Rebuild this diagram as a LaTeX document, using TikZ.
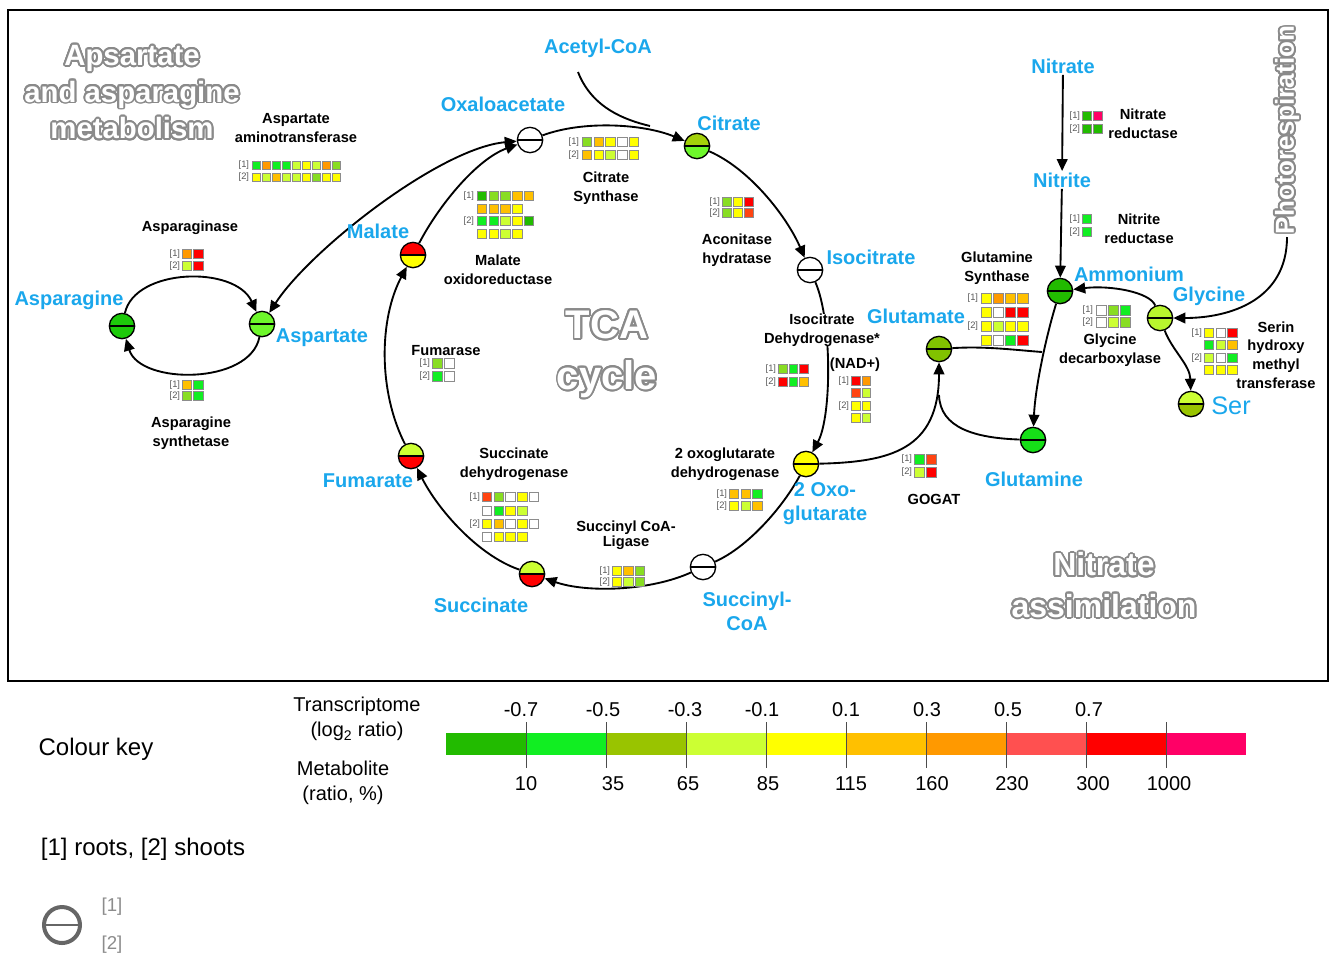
\documentclass[tikz,border=0pt]{standalone}
\usepackage{fontspec}
\setmainfont{Liberation Sans}
\usepackage{contour}
\contourlength{1.4pt}
\contournumber{24}
\usetikzlibrary{arrows.meta}
\definecolor{mblue}{HTML}{1AA7EC}
\definecolor{dg}{HTML}{22BB00}
\definecolor{bg}{HTML}{11EE22}
\definecolor{lg}{HTML}{88DD22}
\definecolor{ol}{HTML}{99C400}
\definecolor{yg}{HTML}{CCFF33}
\definecolor{ye}{HTML}{FFFF00}
\definecolor{lo}{HTML}{FFC000}
\definecolor{or}{HTML}{FF9900}
\definecolor{ro}{HTML}{FF4411}
\definecolor{sr}{HTML}{FF5050}
\definecolor{rd}{HTML}{FF0000}
\definecolor{pk}{HTML}{FF0066}
\definecolor{wh}{HTML}{FFFFFF}
\definecolor{olc}{HTML}{8A8A8A}
\newcommand\hmrow[4]{\foreach \cc [count=\ii from 0] in {#4}{\draw[cellst, fill=\cc] ({#1+\ii*#3-0.41*#3},{#2-0.41*#3}) rectangle ++({0.82*#3},{0.82*#3});}}
\tikzset{
 conn/.style={line width=1.4pt, black},
 arr/.style={conn, -{Triangle[length=9pt,width=8pt]}},
 darr/.style={conn, {Triangle[length=9pt,width=8pt]}-{Triangle[length=9pt,width=8pt]}},
 mlab/.style={text=mblue, font=\bfseries\fontsize{15}{18}\selectfont, align=center, inner sep=1pt},
 elab/.style={font=\bfseries\fontsize{11}{14}\selectfont, align=center, inner sep=1pt},
 rowlab/.style={font=\fontsize{7}{8}\selectfont, text=black!65, anchor=east, inner sep=0.5pt},
 cellst/.style={draw=black!45, line width=0.6pt},
 bgtext/.style={text=white, align=center},
 legtext/.style={font=\fontsize{15}{19}\selectfont, align=center, inner sep=1pt},
 metab/.style 2 args={circle, draw=black, line width=1pt, minimum size=19pt, inner sep=0pt,
   path picture={
     \fill[#1] (path picture bounding box.north west) rectangle (path picture bounding box.east);
     \fill[#2] (path picture bounding box.west) rectangle (path picture bounding box.south east);
     \draw[line width=1pt] (path picture bounding box.west) -- (path picture bounding box.east);
   }},
}
\begin{document}
\begin{tikzpicture}[x=0.75pt,y=-0.75pt]
\useasboundingbox (0,0) rectangle (1330,958);
\draw[line width=1.2pt] (8,10) rectangle (1328,681);

% background titles
\node[bgtext, font=\bfseries\fontsize{22}{27.5}\selectfont] (bgasp) at (132,93) {\contour{olc}{Apsartate}\\\contour{olc}{and asparagine}\\\contour{olc}{metabolism}};
\node[bgtext, font=\bfseries\fontsize{30}{38}\selectfont] (bgtca) at (607,355) {\contour{olc}{TCA}\\\contour{olc}{cycle}};
\node[bgtext, font=\bfseries\fontsize{24}{31}\selectfont] (bgnit) at (1104,586) {\contour{olc}{Nitrate}\\\contour{olc}{assimilation}};
\node[bgtext, font=\bfseries\fontsize{19.5}{24}\selectfont, rotate=90] (photo) at (1288,130) {\contour{olc}{Photorespiration}};

% metabolites
\node[metab={white}{white}] (oxa) at (530,140) {};
\node[metab={ol!80!yg}{bg!50!yg}] (cit) at (697,146) {};
\node[metab={white}{white}] (iso) at (810,270) {};
\node[metab={ye}{ye}] (oxo) at (806,464) {};
\node[metab={white}{white}] (scoa) at (703,567) {};
\node[metab={yg}{rd}] (suc) at (532,574) {};
\node[metab={yg}{rd}] (fum) at (411,456) {};
\node[metab={rd}{ye}] (mal) at (413,255) {};
\node[metab={bg!50!yg}{bg!50!yg}] (asp) at (262,324) {};
\node[metab={dg!70!bg}{dg!70!bg}] (asn) at (122,326) {};
\node[metab={ol!80!dg}{ol!80!dg}] (glu) at (939,349) {};
\node[metab={dg}{dg}] (amm) at (1060,291) {};
\node[metab={yg!70!lg}{yg!70!lg}] (gly) at (1160,318) {};
\node[metab={bg!70!dg}{bg!70!dg}] (gln) at (1033,440) {};
\node[metab={yg}{ol}] (ser) at (1191,404) {};

% connectors
\coordinate (acs) at (578,72);
\coordinate (phe) at (1287,237);
\coordinate (gj) at (1042,352);
\coordinate (gm) at (939,395);
\draw[arr] (oxa) .. controls (584,120) and (644,124) .. (cit);
\draw[conn] (acs) .. controls (592,108) and (625,120) .. (650,126);
\draw[arr] (cit) .. controls (750,169) and (787,217) .. (iso);
\draw[arr] (iso) .. controls (832,320) and (832,416) .. (oxo);
\draw[conn] (oxo) .. controls (783,507) and (748,547) .. (scoa);
\draw[arr] (scoa) .. controls (650,591) and (587,593) .. (suc);
\draw[arr] (suc) .. controls (477,555) and (437,508) .. (fum);
\draw[arr] (fum) .. controls (378,391) and (379,319) .. (mal);
\draw[arr] (mal) .. controls (439,205) and (477,159) .. (oxa);
\draw[darr] (asp) .. controls (310,250) and (440,148) .. (oxa);
\draw[arr] (asn) .. controls (135,268) and (235,265) .. (asp);
\draw[arr] (asp) .. controls (250,385) and (140,385) .. (asn);
\draw[arr] (gly) .. controls (1150,292) and (1110,285) .. (amm);
\draw[arr] (phe) .. controls (1287,300) and (1230,318) .. (gly);
\draw[arr] (gly) .. controls (1172,350) and (1190,365) .. (ser);
\draw[arr] (amm) .. controls (1045,340) and (1035,390) .. (gln);
\draw[conn] (glu) .. controls (985,346) and (1015,350) .. (gj);
\draw[arr] (oxo) .. controls (890,462) and (939,450) .. (glu);
\draw[conn] (gln) .. controls (975,438) and (940,428) .. (gm);

% enzyme labels
\node[elab] (eaat) at (296,128) {Aspartate\\aminotransferase};
\node[elab] (easp) at (190,228) {Asparaginase};
\node[elab] (easn) at (191,433) {Asparagine\\synthetase};
\node[elab] (ecs) at (606,188) {Citrate\\Synthase};
\node[elab] (emo) at (498,270) {Malate\\oxidoreductase};
\node[elab] (eaco) at (737,250) {Aconitase\\hydratase};
\node[elab, fill=white, inner sep=0pt] (eidh) at (822,330) {Isocitrate\\Dehydrogenase*};
\node[elab] (enad) at (855,365) {(NAD+)};
\node[elab] (efum) at (446,351) {Fumarase};
\node[elab] (esdh) at (514,464) {Succinate\\dehydrogenase};
\node[elab, font=\bfseries\fontsize{11}{11}\selectfont] (escl) at (626,535) {Succinyl CoA-\\Ligase};
\node[elab] (eogdh) at (725,464) {2 oxoglutarate\\dehydrogenase};
\node[elab] (egog) at (934,499) {GOGAT};
\node[elab] (enr) at (1143,124) {Nitrate\\reductase};
\node[elab] (enir) at (1139,229) {Nitrite\\reductase};
\node[elab] (egs) at (997,268) {Glutamine\\Synthase};
\node[elab] (egdc) at (1110,350) {Glycine\\decarboxylase};
\node[elab] (eshmt) at (1276,355) {Serin\\hydroxy\\methyl\\transferase};

% metabolite labels
\node[mlab] (acetyl) at (598,48) {Acetyl-CoA};
\node[mlab] (loxa) at (503,104) {Oxaloacetate};
\node[mlab] (lcit) at (729,123) {Citrate};
\node[mlab] (liso) at (871,257) {Isocitrate};
\node[mlab] (loxo) at (825,504) {2 Oxo-\\glutarate};
\node[mlab] (lscoa) at (747,611) {Succinyl-\\CoA};
\node[mlab] (lsuc) at (481,605) {Succinate};
\node[mlab] (lfum) at (368,481) {Fumarate};
\node[mlab] (lmal) at (378,231) {Malate};
\node[mlab] (lasp) at (322,338) {Aspartate};
\node[mlab] (lasn) at (69,300) {Asparagine};
\node[mlab] (lglu) at (916,316) {Glutamate};
\node[mlab] (lamm) at (1129,274) {Ammonium};
\node[mlab] (lgly) at (1209,296) {Glycine};
\node[mlab] (lgln) at (1034,479) {Glutamine};
\node[mlab] (nitrate) at (1063,66) {Nitrate};
\node[mlab] (nitrite) at (1062,180) {Nitrite};
\node[mlab, font=\fontsize{19}{22}\selectfont] (lser) at (1231,406) {Ser};
\draw[arr] (nitrate) -- (nitrite);
\draw[arr] (nitrite) -- (amm);

% heat map grids
\node[rowlab] (r1aat) at (250,165) {[1]};
\node[rowlab] (r2aat) at (250,177) {[2]};
\hmrow{256}{165}{10}{bg,or,bg,bg,yg,ye,yg,or,lg}
\hmrow{256}{177}{10}{ye,yg,lo,yg,yg,ye,lg,ye,ye}

\node[rowlab] (r1asp) at (181,254) {[1]};
\node[rowlab] (r2asp) at (181,266) {[2]};
\hmrow{187}{254}{11.5}{or,rd}
\hmrow{187}{266}{11.5}{yg,rd}

\node[rowlab] (r1asn) at (181,385) {[1]};
\node[rowlab] (r2asn) at (181,396) {[2]};
\hmrow{187}{385}{11.5}{lo,bg}
\hmrow{187}{396}{11.5}{lg,bg}

\node[rowlab] (r1cs) at (580,142) {[1]};
\node[rowlab] (r2cs) at (580,155) {[2]};
\hmrow{587}{142}{11.7}{lg,lo,ye,wh,ye}
\hmrow{587}{155}{11.7}{lo,ye,yg,wh,ye}

\node[rowlab] (r1mo) at (475,196) {[1]};
\node[rowlab] (r2mo) at (475,221) {[2]};
\hmrow{482}{196}{11.7}{dg,lg,lg,lo,lo}
\hmrow{482}{209}{11.7}{lo,lo,lo,ye}
\hmrow{482}{221}{11.7}{bg,bg,yg,ye,dg}
\hmrow{482}{234}{11.7}{ye,ye,yg,ye}

\node[rowlab] (r1aco) at (721,202) {[1]};
\node[rowlab] (r2aco) at (721,213) {[2]};
\hmrow{727}{202}{11}{lg,ye,rd}
\hmrow{727}{213}{11}{lg,ye,ro}

\node[rowlab] (r1idh) at (777,369) {[1]};
\node[rowlab] (r2idh) at (777,382) {[2]};
\hmrow{783}{369}{10.5}{lg,bg,rd}
\hmrow{783}{382}{10.5}{rd,bg,lo}

\node[rowlab] (r1nad) at (850,381) {[1]};
\node[rowlab] (r2nad) at (850,406) {[2]};
\hmrow{856}{381}{10.5}{rd,or}
\hmrow{856}{393}{10.5}{ro,yg}
\hmrow{856}{406}{10.5}{ye,ye}
\hmrow{856}{418}{10.5}{ye,yg}

\node[rowlab] (r1fum) at (431,363) {[1]};
\node[rowlab] (r2fum) at (431,376) {[2]};
\hmrow{437}{363}{12}{lg,wh}
\hmrow{437}{376}{12}{bg,wh}

\node[rowlab] (r1sdh) at (481,497) {[1]};
\node[rowlab] (r2sdh) at (481,524) {[2]};
\hmrow{487}{497}{11.7}{ro,lg,wh,ye,wh}
\hmrow{487}{511}{11.7}{wh,bg,ye,yg}
\hmrow{487}{524}{11.7}{ye,lo,wh,ye,wh}
\hmrow{487}{537}{11.7}{wh,ye,ye,ye}

\node[rowlab] (r1scl) at (611,571) {[1]};
\node[rowlab] (r2scl) at (611,582) {[2]};
\hmrow{617}{571}{11.5}{ye,lo,lg}
\hmrow{617}{582}{11.5}{ye,yg,lg}

\node[rowlab] (r1ogd) at (728,494) {[1]};
\node[rowlab] (r2ogd) at (728,506) {[2]};
\hmrow{734}{494}{11.8}{lo,lo,bg}
\hmrow{734}{506}{11.8}{ye,yg,lo}

\node[rowlab] (r1gog) at (913,459) {[1]};
\node[rowlab] (r2gog) at (913,472) {[2]};
\hmrow{919}{459}{12}{bg,ro}
\hmrow{919}{472}{12}{yg,rd}

\node[rowlab] (r1nr) at (1081,116) {[1]};
\node[rowlab] (r2nr) at (1081,129) {[2]};
\hmrow{1087}{116}{11}{dg,pk}
\hmrow{1087}{129}{11}{dg,dg}

\node[rowlab] (r1nir) at (1081,219) {[1]};
\node[rowlab] (r2nir) at (1081,232) {[2]};
\hmrow{1087}{219}{11}{bg}
\hmrow{1087}{232}{11}{bg}

\node[rowlab] (r1gs) at (979,298) {[1]};
\node[rowlab] (r2gs) at (979,326) {[2]};
\hmrow{986}{298}{12.3}{ye,or,lo,lo}
\hmrow{986}{312}{12.3}{ye,wh,rd,rd}
\hmrow{986}{326}{12.3}{ye,yg,ye,ye}
\hmrow{986}{340}{12.3}{ye,wh,bg,rd}

\node[rowlab] (r1gdc) at (1094,310) {[1]};
\node[rowlab] (r2gdc) at (1094,322) {[2]};
\hmrow{1101}{310}{12}{wh,lg,bg}
\hmrow{1101}{322}{12}{wh,yg,lg}

\node[rowlab] (r1sh) at (1203,333) {[1]};
\node[rowlab] (r2sh) at (1203,358) {[2]};
\hmrow{1209}{333}{11.7}{ye,wh,rd}
\hmrow{1209}{345}{11.7}{bg,yg,lo}
\hmrow{1209}{358}{11.7}{yg,wh,bg}
\hmrow{1209}{370}{11.7}{ye,ye,ye}

% legend
\node[font=\fontsize{18}{22}\selectfont] (ckey) at (96,749) {Colour key};
\node[legtext] (ltr) at (357,719) {Transcriptome\\(log\textsubscript{2} ratio)};
\node[legtext] (lmt) at (343,783) {Metabolite\\(ratio, \%)};
\foreach \c [count=\i from 0] in {dg,bg,ol,yg,ye,lo,or,sr,rd,pk}
  \fill[\c] ({446+\i*80},733) rectangle ++(80,22);
\foreach \i in {1,...,9}
  \draw[black!70, line width=0.6pt] ({446+\i*80},722) -- ({446+\i*80},768);
\foreach \v/\x [count=\i] in {-0.7/521,-0.5/603,-0.3/685,-0.1/762,0.1/846,0.3/927,0.5/1008,0.7/1089}
  \node[legtext] (tv\i) at (\x,710) {\v};
\foreach \v/\x [count=\i] in {10/526,35/613,65/688,85/768,115/851,160/932,230/1012,300/1093,1000/1169}
  \node[legtext] (mv\i) at (\x,784) {\v};
\node[font=\fontsize{18}{22}\selectfont] (lroots) at (143,849) {[1] roots, [2] shoots};
\node[circle, draw=black!60, line width=3pt, minimum size=27pt, inner sep=0pt,
  path picture={\draw[black!60, line width=2.2pt] (path picture bounding box.west) -- (path picture bounding box.east);}] (lcirc) at (62,925) {};
\node[text=black!45, font=\fontsize{14}{16}\selectfont] (lk1) at (112,907) {[1]};
\node[text=black!45, font=\fontsize{14}{16}\selectfont] (lk2) at (112,945) {[2]};
\end{tikzpicture}
\end{document}
